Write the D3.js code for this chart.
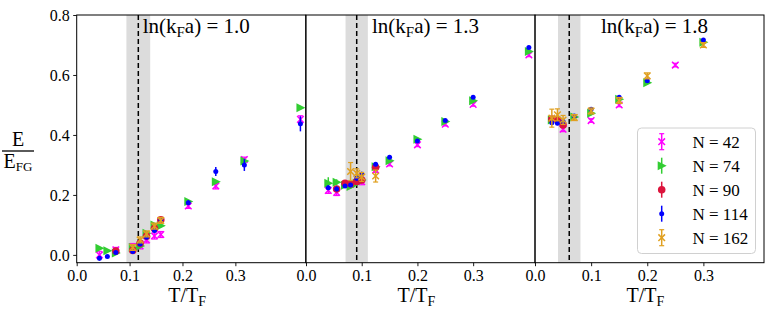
<!DOCTYPE html>
<html>
<head>
<meta charset="utf-8">
<script src="https://cdnjs.cloudflare.com/ajax/libs/d3/7.8.5/d3.min.js"></script>
<style>
body { margin: 0; background: #fff; }
svg text { font-family: "Liberation Serif", "Times New Roman", Tinos, "DejaVu Serif", serif; fill: #000; }
</style>
</head>
<body>
<svg id="chart" width="772" height="309"></svg>
<script>
// panel settings
var lnkFa = ["1.0", "1.3", "1.8"];
var xMax = [0.433, 0.411, 0.408];
var tc = [0.1165, 0.091, 0.061];
var tcErr = [0.0225, 0.02, 0.02];
var xTicks = [0.0, 0.1, 0.2, 0.3];
var yTicks = [0.0, 0.2, 0.4, 0.6, 0.8];

var sizesN = [42, 74, 90, 114, 162];
var colors = ["#ff00ff", "#32cd32", "#dc143c", "#0000ff", "#e0a020"];
var shapes = ["x", "tri", "circle", "dot", "x"];

// [T/TF, E/EFG, err]
var p1_n42 = [[0.043, 0.0, 0.012], [0.074, 0.017, 0.008], [0.106, 0.028, 0.01], [0.12, 0.03, 0.01], [0.132, 0.05, 0.01], [0.147, 0.063, 0.01], [0.159, 0.068, 0.01], [0.211, 0.163, 0.008], [0.263, 0.23, 0.01], [0.317, 0.318, 0.008], [0.423, 0.452, 0.012]];
var p1_n74 = [[0.043, 0.022, 0.005], [0.058, 0.014, 0.005], [0.074, 0.006, 0.005], [0.106, 0.025, 0.006], [0.12, 0.03, 0.006], [0.132, 0.072, 0.006], [0.147, 0.1, 0.006], [0.159, 0.097, 0.006], [0.211, 0.178, 0.005], [0.263, 0.244, 0.006], [0.317, 0.313, 0.006], [0.423, 0.491, 0.006]];
var p1_n90 = [[0.074, 0.013, 0.008], [0.106, 0.015, 0.008], [0.12, 0.039, 0.008], [0.132, 0.062, 0.008], [0.147, 0.088, 0.008], [0.159, 0.117, 0.008]];
var p1_n114 = [[0.043, -0.011, 0.008], [0.058, -0.005, 0.005], [0.074, 0.008, 0.005], [0.106, 0.011, 0.006], [0.12, 0.036, 0.006], [0.132, 0.059, 0.006], [0.147, 0.081, 0.006], [0.159, 0.117, 0.008], [0.211, 0.174, 0.008], [0.263, 0.278, 0.015], [0.317, 0.300, 0.02], [0.423, 0.437, 0.025]];
var p1_n162 = [[0.106, 0.025, 0.01], [0.12, 0.05, 0.01], [0.132, 0.07, 0.01], [0.147, 0.096, 0.01], [0.159, 0.115, 0.01]];

var p2_n42 = [[0.04, 0.215, 0.01], [0.055, 0.208, 0.01], [0.08, 0.235, 0.01], [0.1, 0.244, 0.01], [0.125, 0.283, 0.008], [0.15, 0.303, 0.006], [0.2, 0.367, 0.006], [0.25, 0.436, 0.006], [0.3, 0.502, 0.006], [0.4, 0.667, 0.006]];
var p2_n74 = [[0.04, 0.239, 0.02], [0.055, 0.242, 0.01], [0.07, 0.232, 0.008], [0.08, 0.228, 0.008], [0.091, 0.239, 0.008], [0.1, 0.25, 0.008], [0.125, 0.294, 0.008], [0.15, 0.314, 0.006], [0.2, 0.386, 0.006], [0.25, 0.445, 0.006], [0.3, 0.514, 0.006], [0.4, 0.678, 0.006]];
var p2_n90 = [[0.055, 0.22, 0.008], [0.07, 0.239, 0.008], [0.08, 0.237, 0.008], [0.091, 0.245, 0.008], [0.1, 0.25, 0.008], [0.125, 0.292, 0.008]];
var p2_n114 = [[0.04, 0.224, 0.008], [0.055, 0.22, 0.008], [0.07, 0.23, 0.006], [0.08, 0.233, 0.006], [0.091, 0.256, 0.008], [0.1, 0.269, 0.008], [0.125, 0.302, 0.006], [0.15, 0.326, 0.005], [0.2, 0.38, 0.005], [0.25, 0.448, 0.005], [0.3, 0.526, 0.005], [0.4, 0.692, 0.005]];
var p2_n162 = [[0.08, 0.278, 0.03], [0.091, 0.272, 0.015], [0.1, 0.26, 0.015], [0.125, 0.263, 0.02]];

var p3_n42 = [[0.05, 0.419, 0.008], [0.1, 0.448, 0.006], [0.15, 0.5, 0.006], [0.25, 0.633, 0.006]];
var p3_n74 = [[0.03, 0.45, 0.01], [0.07, 0.46, 0.008], [0.1, 0.472, 0.006], [0.15, 0.519, 0.006], [0.2, 0.574, 0.006], [0.3, 0.709, 0.006]];
var p3_n90 = [[0.03, 0.453, 0.01], [0.04, 0.45, 0.01], [0.05, 0.433, 0.01]];
var p3_n114 = [[0.03, 0.441, 0.006], [0.04, 0.439, 0.006], [0.05, 0.445, 0.006], [0.07, 0.463, 0.006], [0.1, 0.486, 0.006], [0.15, 0.526, 0.005], [0.2, 0.581, 0.005], [0.3, 0.717, 0.005]];
var p3_n162 = [[0.03, 0.456, 0.03], [0.04, 0.467, 0.02], [0.05, 0.45, 0.015], [0.07, 0.458, 0.01], [0.1, 0.48, 0.01], [0.15, 0.515, 0.01], [0.2, 0.597, 0.01], [0.3, 0.70, 0.008]];

var panelData = [
  [p1_n42, p1_n74, p1_n90, p1_n114, p1_n162],
  [p2_n42, p2_n74, p2_n90, p2_n114, p2_n162],
  [p3_n42, p3_n74, p3_n90, p3_n114, p3_n162]
];

var serif = '"Liberation Serif", "Times New Roman", Tinos, "DejaVu Serif", serif';
var svg = d3.select("#chart").attr("font-family", serif);
var yTop = 15, yBot = 262.7, pw = 229;
var x0s = [76.7, 306, 535];

var y = d3.scaleLinear().domain([-0.026, 0.8]).range([yBot, yTop]);

function marker(sel, shape, color, cx, cy) {
  if (shape == "x") {
    var s = 3.3;
    sel.append("path")
      .attr("d", "M" + (cx - s) + "," + (cy - s) + "L" + (cx + s) + "," + (cy + s) + "M" + (cx - s) + "," + (cy + s) + "L" + (cx + s) + "," + (cy - s))
      .attr("stroke", color).attr("stroke-width", 1.5).attr("fill", "none");
  } else if (shape == "tri") {
    sel.append("path")
      .attr("d", "M" + (cx + 5) + "," + cy + "L" + (cx - 4) + "," + (cy - 4.5) + "L" + (cx - 4) + "," + (cy + 4.5) + "Z")
      .attr("fill", color);
  } else if (shape == "circle") {
    sel.append("circle").attr("cx", cx).attr("cy", cy).attr("r", 3.8).attr("fill", color);
  } else {
    sel.append("circle").attr("cx", cx).attr("cy", cy).attr("r", 2.5).attr("fill", color);
  }
}

function errbar(sel, color, cx, y1, y2, caps) {
  sel.append("line").attr("x1", cx).attr("x2", cx).attr("y1", y1).attr("y2", y2)
    .attr("stroke", color).attr("stroke-width", 1.5);
  if (caps) {
    [y1, y2].forEach(function(v) {
      sel.append("line").attr("x1", cx - 2.5).attr("x2", cx + 2.5).attr("y1", v).attr("y2", v)
        .attr("stroke", color).attr("stroke-width", 1.2);
    });
  }
}

panelData.forEach(function(series, p) {
  var x0 = x0s[p];
  var x = d3.scaleLinear().domain([0, xMax[p]]).range([x0, x0 + pw]);
  var g = svg.append("g");

  // critical temperature band
  g.append("rect")
    .attr("x", x(tc[p] - tcErr[p])).attr("y", yTop)
    .attr("width", x(tc[p] + tcErr[p]) - x(tc[p] - tcErr[p]))
    .attr("height", yBot - yTop)
    .attr("fill", "#dcdcdc");
  g.append("line")
    .attr("x1", x(tc[p])).attr("x2", x(tc[p]))
    .attr("y1", yTop).attr("y2", yBot)
    .attr("stroke", "#000").attr("stroke-width", 1.5)
    .attr("stroke-dasharray", "5,3");

  // data
  series.forEach(function(pts, k) {
    var gs = g.append("g");
    pts.forEach(function(d) {
      var cx = x(d[0]), cy = y(d[1]);
      errbar(gs, colors[k], cx, y(d[1] - d[2]), y(d[1] + d[2]), shapes[k] == "x");
      marker(gs, shapes[k], colors[k], cx, cy);
    });
  });

  // frame
  g.append("rect").attr("x", x0).attr("y", yTop).attr("width", pw).attr("height", yBot - yTop)
    .attr("fill", "none").attr("stroke", "#000").attr("stroke-width", 1);

  // x axis
  var ax = g.append("g").attr("transform", "translate(0," + yBot + ")")
    .call(d3.axisBottom(x).tickValues(xTicks).tickFormat(d3.format(".1f")).tickSize(3.5).tickPadding(3.5).tickSizeOuter(0));
  ax.attr("font-family", serif).attr("font-size", 16);
  ax.select(".domain").remove();
  ax.selectAll("line").attr("stroke-width", 0.9);

  // x label
  var xl = g.append("text").attr("x", x0 + pw / 2 - 4).attr("y", 302)
    .attr("text-anchor", "middle").attr("font-size", 20);
  xl.append("tspan").text("T/T");
  xl.append("tspan").attr("font-size", 14).attr("dy", 4).text("F");

  // panel title
  var t = g.append("text").attr("x", x0 + 66).attr("y", 33).attr("font-size", 21);
  t.append("tspan").text("ln(k");
  t.append("tspan").attr("font-size", 15).attr("dy", 4).text("F");
  t.append("tspan").attr("dy", -4).text("a) = " + lnkFa[p]);

  if (p == 0) {
    var ay = g.append("g").attr("transform", "translate(" + x0 + ",0)")
      .call(d3.axisLeft(y).tickValues(yTicks).tickFormat(d3.format(".1f")).tickSize(3.5).tickPadding(3.5).tickSizeOuter(0));
    ay.attr("font-family", serif).attr("font-size", 16);
    ay.select(".domain").remove();
    ay.selectAll("line").attr("stroke-width", 0.9);
  }
});

// y label as a fraction
var yl = svg.append("g");
yl.append("text").attr("x", 18).attr("y", 146).attr("text-anchor", "middle").attr("font-size", 20).text("E");
yl.append("line").attr("x1", 2).attr("x2", 34).attr("y1", 151).attr("y2", 151).attr("stroke", "#000").attr("stroke-width", 1.3);
var yb = yl.append("text").attr("x", 18).attr("y", 168).attr("text-anchor", "middle").attr("font-size", 20);
yb.append("tspan").text("E");
yb.append("tspan").attr("font-size", 13).attr("dy", 3).text("FG");

// legend
var lg = svg.append("g");
lg.append("rect").attr("x", 637.5).attr("y", 128).attr("width", 118).attr("height", 125.5)
  .attr("rx", 4).attr("fill", "#fff").attr("fill-opacity", 0.8)
  .attr("stroke", "#d0d0d0").attr("stroke-width", 1);
sizesN.forEach(function(n, k) {
  var ly = 141.7 + k * 24;
  var cx = 661.7;
  errbar(lg, colors[k], cx, ly - 8, ly + 8, shapes[k] == "x");
  marker(lg, shapes[k], colors[k], cx, ly);
  lg.append("text").attr("x", 692.5).attr("y", ly + 6).attr("font-size", 17).text("N = " + n);
});
</script>
</body>
</html>
